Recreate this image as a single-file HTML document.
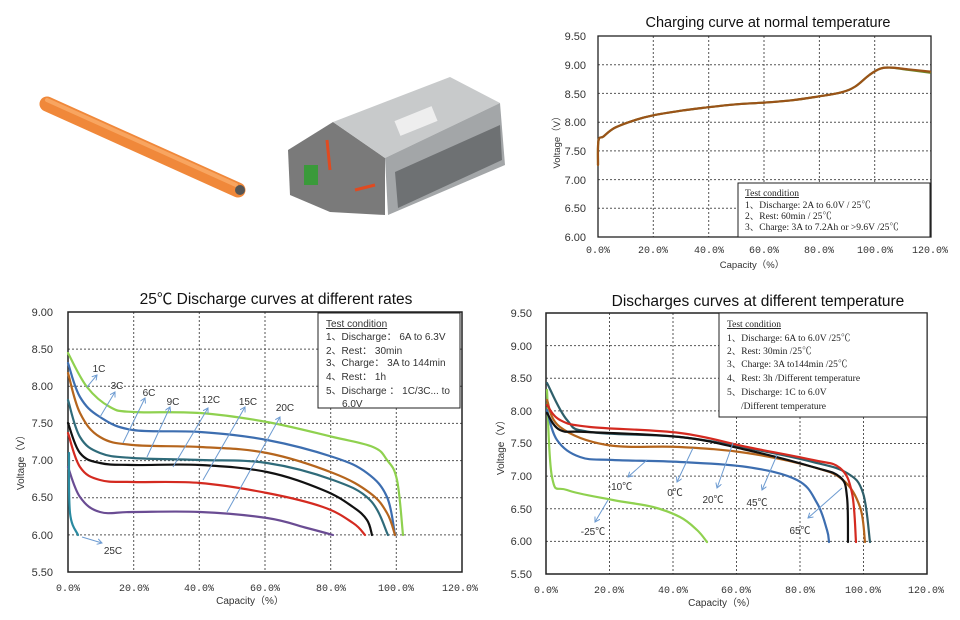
<!DOCTYPE html>
<html><head><meta charset="utf-8"><style>
html,body{margin:0;padding:0;background:#fff;}
svg{display:block;font-family:"Liberation Sans","Noto Sans CJK SC",sans-serif;}
.g{stroke:#555;stroke-width:1;stroke-dasharray:2,2;fill:none}
.tk{font-size:11px;fill:#333}
.xt{font-family:"Liberation Mono","Noto Sans CJK SC",monospace;font-size:10px;fill:#333}
.c{fill:none;stroke-width:2.2;stroke-linejoin:round;stroke-linecap:round}
.ar{stroke:#6d9bd1;stroke-width:1;fill:none}
.lg{font-family:"Liberation Serif","Noto Serif CJK SC",serif;font-size:9.5px;fill:#222}
.lb{font-size:10px;fill:#333}
</style></head><body>
<svg id="s" width="960" height="620" viewBox="0 0 960 620" xmlns="http://www.w3.org/2000/svg">
<defs><marker id="a" markerWidth="6" markerHeight="6" refX="5" refY="3" orient="auto"><path d="M0,0 L5,3 L0,6" fill="none" stroke="#6d9bd1" stroke-width="1"/></marker></defs>
<!-- photos -->
<line x1="47" y1="104" x2="238" y2="190" stroke="#f0883a" stroke-width="15" stroke-linecap="round"/>
<line x1="47" y1="100" x2="236" y2="185" stroke="#f8a560" stroke-width="4" stroke-linecap="round"/>
<circle cx="240" cy="190" r="5" fill="#555"/>
<polygon points="288,150 333,122 385,158 385,215 330,212 290,195" fill="#7a7a7a"/>
<polygon points="333,122 450,77 500,103 385,158" fill="#c8cacb"/>
<polygon points="385,158 500,103 505,165 388,215" fill="#a3a6a8"/>
<polygon points="395,172 500,125 502,160 398,208" fill="#6e7173"/>
<rect x="396" y="113" width="40" height="16" fill="#eeeeee" transform="rotate(-22 416 121)"/>
<rect x="304" y="165" width="14" height="20" fill="#3a9a3a"/>
<path d="M327,140 L330,170 M355,190 L375,185" stroke="#e04a20" stroke-width="3" fill="none"/>
<!-- ===== Chart 1 ===== -->
<text x="768" y="27" text-anchor="middle" font-size="14.5" fill="#111">Charging curve at normal temperature</text>
<g class="g">
<line x1="598" y1="64.7" x2="931" y2="64.7"/><line x1="598" y1="93.4" x2="931" y2="93.4"/><line x1="598" y1="122.2" x2="931" y2="122.2"/><line x1="598" y1="150.9" x2="931" y2="150.9"/><line x1="598" y1="179.6" x2="931" y2="179.6"/><line x1="598" y1="208.3" x2="931" y2="208.3"/>
<line x1="653.3" y1="36" x2="653.3" y2="237"/><line x1="708.7" y1="36" x2="708.7" y2="237"/><line x1="764" y1="36" x2="764" y2="237"/><line x1="819.4" y1="36" x2="819.4" y2="237"/><line x1="874.7" y1="36" x2="874.7" y2="237"/>
</g>
<rect x="598" y="36" width="333" height="201" fill="none" stroke="#222" stroke-width="1.3"/>
<polyline class="c" stroke="#6a8a2a" stroke-width="3" points="598,165 598.5,140.5 603.5,136.5 614.6,127.9 634,120.4 653.3,115.3 681,110.7 708.7,107.2 736.4,104.3 764,102.6 791.7,100.3 819.4,96.3 841.5,92.3 855.3,86.5 869.2,75.1 880.2,68.7 891.3,67.6 907.9,69.8 930,72.6"/>
<polyline class="c" stroke="#9a5318" points="598,165 598.5,140.5 603.5,136.5 614.6,127.9 634,120.4 653.3,115.3 681,110.7 708.7,107.2 736.4,104.3 764,102.6 791.7,100.3 819.4,96.3 841.5,92.3 855.3,86.5 869.2,75.1 880.2,68.7 891.3,67.6 907.9,69.3 930,71.6"/>
<g class="tk" text-anchor="end">
<text x="586" y="40">9.50</text><text x="586" y="69">9.00</text><text x="586" y="98">8.50</text><text x="586" y="126">8.00</text><text x="586" y="155">7.50</text><text x="586" y="184">7.00</text><text x="586" y="212">6.50</text><text x="586" y="241">6.00</text>
</g>
<g class="xt" text-anchor="middle">
<text x="598" y="253">0.0%</text><text x="653" y="253">20.0%</text><text x="709" y="253">40.0%</text><text x="764" y="253">60.0%</text><text x="819" y="253">80.0%</text><text x="875" y="253">100.0%</text><text x="930" y="253">120.0%</text>
</g>
<text x="752" y="268" text-anchor="middle" font-size="9.5" fill="#333">Capacity（%）</text>
<text transform="translate(560,140) rotate(-90)" text-anchor="middle" font-size="9.5" fill="#333">Voltage（V）</text>
<rect x="738" y="183" width="192" height="54" fill="#fff" stroke="#222" stroke-width="1"/>
<g class="lg">
<text x="745" y="196" text-decoration="underline">Test condition</text>
<text x="745" y="208">1、Discharge: 2A to 6.0V / 25℃</text>
<text x="745" y="219">2、Rest: 60min / 25℃</text>
<text x="745" y="230">3、Charge: 3A  to 7.2Ah or &gt;9.6V /25℃</text>
</g>
<!-- ===== Chart 2 ===== -->
<text x="276" y="304" text-anchor="middle" font-size="15.5" fill="#111">25℃ Discharge curves at different rates</text>
<g class="g">
<line x1="68" y1="349.1" x2="462" y2="349.1"/><line x1="68" y1="386.3" x2="462" y2="386.3"/><line x1="68" y1="423.4" x2="462" y2="423.4"/><line x1="68" y1="460.6" x2="462" y2="460.6"/><line x1="68" y1="497.7" x2="462" y2="497.7"/><line x1="68" y1="534.9" x2="462" y2="534.9"/>
<line x1="133.7" y1="312" x2="133.7" y2="572"/><line x1="199.3" y1="312" x2="199.3" y2="572"/><line x1="265" y1="312" x2="265" y2="572"/><line x1="330.7" y1="312" x2="330.7" y2="572"/><line x1="396.3" y1="312" x2="396.3" y2="572"/>
</g>
<rect x="68" y="312" width="394" height="260" fill="none" stroke="#222" stroke-width="1.5"/>
<polyline class="c" stroke="#8fd14f" points="68,353 87,387 110,407 133,412 200,413 267,422 333,437 373,447 387,460 397,480 403,535"/>
<polyline class="c" stroke="#3d6eb0" points="68,363 80,397 100,417 133,430 200,432 267,440 333,457 367,473 387,497 395,535"/>
<polyline class="c" stroke="#b5651d" points="68,373 80,413 100,437 133,445 200,447 267,453 333,473 370,493 387,513 395,535"/>
<polyline class="c" stroke="#2f6b7a" points="68,400 80,437 100,453 133,458 200,460 267,463 333,480 370,500 388,535"/>
<polyline class="c" stroke="#111" points="68,423 80,453 100,463 133,465 200,465 267,472 323,490 353,507 367,520 372,535"/>
<polyline class="c" stroke="#d42a20" points="68,433 80,467 100,480 133,482 200,483 267,493 323,507 353,523 365,535"/>
<polyline class="c" stroke="#6a4c93" points="68,467 80,497 100,512 133,512 200,512 267,518 307,528 333,535"/>
<polyline class="c" stroke="#2a8aa0" points="69,453 70,513 78,535"/>
<g class="ar" marker-end="url(#a)">
<line x1="87" y1="387" x2="97" y2="375"/><line x1="100" y1="417" x2="115" y2="392"/><line x1="123" y1="443" x2="145" y2="398"/><line x1="147" y1="457" x2="170" y2="407"/><line x1="173" y1="467" x2="208" y2="408"/><line x1="203" y1="480" x2="245" y2="407"/><line x1="227" y1="512" x2="280" y2="417"/><line x1="82" y1="537" x2="102" y2="543"/>
</g>
<g class="lb" text-anchor="middle">
<text x="99" y="372">1C</text><text x="117" y="389">3C</text><text x="149" y="396">6C</text><text x="173" y="405">9C</text><text x="211" y="403">12C</text><text x="248" y="405">15C</text><text x="285" y="411">20C</text><text x="113" y="554">25C</text>
</g>
<g class="tk" text-anchor="end">
<text x="53" y="316">9.00</text><text x="53" y="353">8.50</text><text x="53" y="390">8.00</text><text x="53" y="427">7.50</text><text x="53" y="464">7.00</text><text x="53" y="501">6.50</text><text x="53" y="539">6.00</text><text x="53" y="576">5.50</text>
</g>
<g class="xt" text-anchor="middle">
<text x="68" y="591">0.0%</text><text x="134" y="591">20.0%</text><text x="199" y="591">40.0%</text><text x="265" y="591">60.0%</text><text x="331" y="591">80.0%</text><text x="396" y="591">100.0%</text><text x="460" y="591">120.0%</text>
</g>
<text x="250" y="604" text-anchor="middle" font-size="10" fill="#333">Capacity（%）</text>
<text transform="translate(24,460) rotate(-90)" text-anchor="middle" font-size="10" fill="#333">Voltage（V）</text>
<rect x="318" y="313" width="142" height="95" fill="#fff" stroke="#222" stroke-width="1"/>
<g class="lb" font-size="9">
<text x="326" y="327" text-decoration="underline">Test condition</text>
<text x="326" y="340">1、Discharge： 6A to 6.3V</text>
<text x="326" y="354">2、Rest： 30min</text>
<text x="326" y="366">3、Charge： 3A  to 144min</text>
<text x="326" y="380">4、Rest： 1h</text>
<text x="326" y="394">5、Discharge ： 1C/3C... to</text>
<text x="342" y="407">6.0V</text>
</g>
<!-- ===== Chart 3 ===== -->
<text x="758" y="306" text-anchor="middle" font-size="15.5" fill="#111">Discharges curves at different temperature</text>
<g class="g">
<line x1="546" y1="345.6" x2="927" y2="345.6"/><line x1="546" y1="378.3" x2="927" y2="378.3"/><line x1="546" y1="410.9" x2="927" y2="410.9"/><line x1="546" y1="443.5" x2="927" y2="443.5"/><line x1="546" y1="476.1" x2="927" y2="476.1"/><line x1="546" y1="508.8" x2="927" y2="508.8"/><line x1="546" y1="541.4" x2="927" y2="541.4"/>
<line x1="609.5" y1="313" x2="609.5" y2="574"/><line x1="673" y1="313" x2="673" y2="574"/><line x1="736.5" y1="313" x2="736.5" y2="574"/><line x1="800" y1="313" x2="800" y2="574"/><line x1="863.5" y1="313" x2="863.5" y2="574"/>
</g>
<rect x="546" y="313" width="381" height="261" fill="none" stroke="#222" stroke-width="1.5"/>
<polyline class="c" stroke="#8fd14f" points="547,390 552,477 567,490 613,500 653,507 680,517 697,530 707,542"/>
<polyline class="c" stroke="#3d6eb0" points="547,410 557,440 580,457 613,460 680,462 747,467 797,480 817,503 827,530 829,542"/>
<polyline class="c" stroke="#2f5f6a" points="547,383 567,420 590,432 680,437 747,448 813,462 847,473 863,493 870,542"/>
<polyline class="c" stroke="#b5651d" points="547,400 560,427 607,445 680,447 747,453 813,467 843,480 860,507 865,542"/>
<polyline class="c" stroke="#d42a20" points="547,405 560,420 590,427 680,433 747,447 813,460 840,468 852,493 856,542"/>
<polyline class="c" stroke="#111" points="547,413 560,430 587,432 680,437 747,450 813,467 840,477 847,497 848,542"/>
<g class="ar" marker-end="url(#a)">
<line x1="647" y1="460" x2="628" y2="477"/><line x1="693" y1="448" x2="677" y2="482"/><line x1="733" y1="443" x2="717" y2="488"/><line x1="777" y1="455" x2="762" y2="490"/><line x1="842" y1="488" x2="808" y2="518"/><line x1="608" y1="500" x2="595" y2="522"/>
</g>
<g class="lb" text-anchor="middle">
<text x="620" y="490">-10℃</text><text x="675" y="496">0℃</text><text x="713" y="503">20℃</text><text x="757" y="506">45℃</text><text x="800" y="534">65℃</text><text x="593" y="535">-25℃</text>
</g>
<g class="tk" text-anchor="end">
<text x="532" y="317">9.50</text><text x="532" y="350">9.00</text><text x="532" y="382">8.50</text><text x="532" y="415">8.00</text><text x="532" y="447">7.50</text><text x="532" y="480">7.00</text><text x="532" y="513">6.50</text><text x="532" y="545">6.00</text><text x="532" y="578">5.50</text>
</g>
<g class="xt" text-anchor="middle">
<text x="546" y="593">0.0%</text><text x="609" y="593">20.0%</text><text x="673" y="593">40.0%</text><text x="736" y="593">60.0%</text><text x="800" y="593">80.0%</text><text x="863" y="593">100.0%</text><text x="926" y="593">120.0%</text>
</g>
<text x="722" y="606" text-anchor="middle" font-size="10" fill="#333">Capacity（%）</text>
<text transform="translate(504,445) rotate(-90)" text-anchor="middle" font-size="10" fill="#333">Voltage（V）</text>
<rect x="719" y="313" width="208" height="104" fill="#fff" stroke="#222" stroke-width="1"/>
<g class="lg">
<text x="727" y="327" text-decoration="underline">Test condition</text>
<text x="727" y="341">1、Discharge: 6A to 6.0V /25℃</text>
<text x="727" y="354">2、Rest: 30min /25℃</text>
<text x="727" y="367">3、Charge: 3A to144min /25℃</text>
<text x="727" y="381">4、Rest: 3h /Different temperature</text>
<text x="727" y="395">5、Discharge: 1C  to 6.0V</text>
<text x="741" y="409">/Different temperature</text>
</g>
</svg>
<script>
(function(){
var ns="http://www.w3.org/2000/svg";
var pls=document.querySelectorAll("polyline.c");
for(var i=0;i<pls.length;i++){
 var pl=pls[i];var pts=pl.getAttribute("points").trim().split(/\s+/).map(function(s){var a=s.split(",");return [+a[0],+a[1]];});
 var d="M"+pts[0][0]+","+pts[0][1];
 for(var k=0;k<pts.length-1;k++){
  var p0=pts[k-1]||pts[k],p1=pts[k],p2=pts[k+1],p3=pts[k+2]||p2;
  var t=0.18;
  var c1x=p1[0]+(p2[0]-p0[0])*t,c1y=p1[1]+(p2[1]-p0[1])*t;
  var c2x=p2[0]-(p3[0]-p1[0])*t,c2y=p2[1]-(p3[1]-p1[1])*t;
  d+=" C"+c1x.toFixed(1)+","+c1y.toFixed(1)+" "+c2x.toFixed(1)+","+c2y.toFixed(1)+" "+p2[0]+","+p2[1];
 }
 var p=document.createElementNS(ns,"path");
 p.setAttribute("d",d);p.setAttribute("class","c");p.setAttribute("stroke",pl.getAttribute("stroke"));
 if(pl.getAttribute("stroke-width"))p.setAttribute("stroke-width",pl.getAttribute("stroke-width"));
 pl.parentNode.replaceChild(p,pl);
}
})();
</script>
</body></html>
